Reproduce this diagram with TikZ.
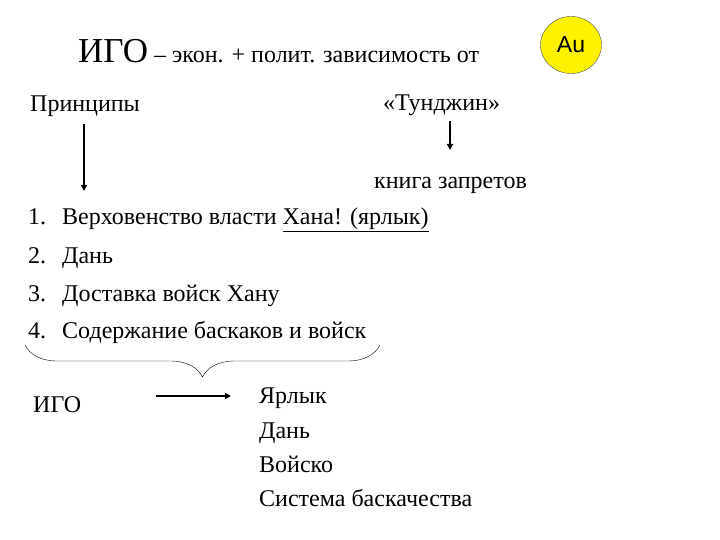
\documentclass[tikz,border=0pt]{standalone}
\usepackage{fontspec}
\setmainfont{Liberation Serif}
\newfontfamily\ausans{Liberation Sans}
\usetikzlibrary{shapes.geometric, arrows.meta, positioning, decorations.pathreplacing}
\tikzstyle{txt} = [
    anchor=base west,
    inner sep=0pt,
    font=\fontsize{24}{28}\selectfont
]
\tikzstyle{arrow} = [line width=1.4pt,-{Triangle[length=6pt,width=6pt]}]
\tikzstyle{gold} = [
    ellipse,
    minimum width=61pt,
    minimum height=57pt,
    draw=black!70,
    fill=yellow,
    font=\ausans\fontsize{23}{26}\selectfont
]

\begin{document}
\begin{tikzpicture}[x=1pt,y=-1pt]
\useasboundingbox (0,0) rectangle (720,540);

% Title
\node (title) [txt] at (78,63) {{\fontsize{35}{38}\selectfont ИГО} – экон. + полит. зависимость от};
\node (au) [gold] at (571,45) {Au};

% Heads
\node (princ) [txt] at (30,112) {Принципы};
\node (tund) [txt] at (383,111) {«Тунджин»};
\node (book) [txt] at (374,189) {книга запретов};

% List
\node (n1) [txt] at (28,225) {1.};
\node (l1) [txt] at (62,225) {Верховенство власти \underline{Хана! (ярлык)}};
\node (n2) [txt] at (28,263) {2.};
\node (l2) [txt] at (62,263) {Дань};
\node (n3) [txt] at (28,301) {3.};
\node (l3) [txt] at (62,301) {Доставка войск Хану};
\node (n4) [txt] at (28,338) {4.};
\node (l4) [txt] at (62,338) {Содержание баскаков и войск};

% Bottom part
\node (igo) [txt] at (33,412) {ИГО};
\node (r1) [txt] at (259,403) {Ярлык};
\node (r2) [txt] at (259,438) {Дань};
\node (r3) [txt] at (259,472) {Войско};
\node (r4) [txt] at (259,506) {Система баскачества};

% Arrows
\coordinate (pend) at (84,191);
\draw [arrow] (princ.south -| pend) ++(0,7) -- (pend);
\coordinate (bend) at (450,150);
\draw [arrow] (tund.south -| bend) ++(0,5) -- (bend);
\coordinate (astart) at (156,396);
\coordinate (aend) at (231,396);
\draw [arrow] (astart) -- (aend);

% Brace
\draw [decorate, decoration={brace, mirror, amplitude=32pt}] (25,345) -- (380,345);

\end{tikzpicture}
\end{document}
